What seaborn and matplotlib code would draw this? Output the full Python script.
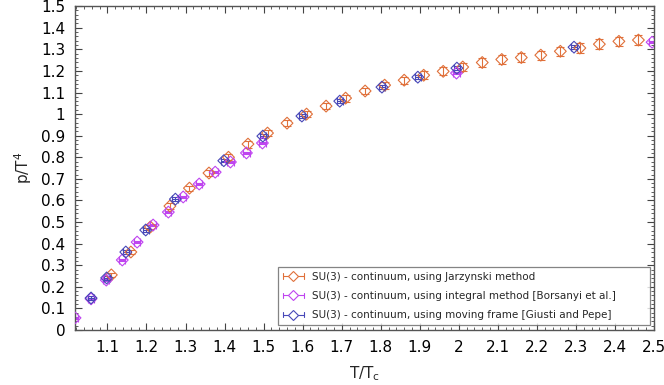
import numpy as np
import matplotlib
matplotlib.use("Agg")
import matplotlib.pyplot as plt
from matplotlib.lines import Line2D
from matplotlib.legend_handler import HandlerBase
from matplotlib.ticker import MultipleLocator, FuncFormatter
import seaborn as sns

# ── data ────────────────────────────────────────────────────
jar_x = [1.11, 1.16, 1.21, 1.26, 1.31, 1.36, 1.41, 1.46, 1.51, 1.56,
         1.61, 1.66, 1.71, 1.76, 1.81, 1.86, 1.91, 1.96, 2.01, 2.06,
         2.11, 2.16, 2.21, 2.26, 2.31, 2.36, 2.41, 2.46]
jar_y = [0.255, 0.361, 0.477, 0.574, 0.657, 0.727, 0.800, 0.861, 0.912, 0.958,
         1.000, 1.037, 1.074, 1.107, 1.134, 1.157, 1.180, 1.198, 1.218, 1.239,
         1.253, 1.262, 1.273, 1.291, 1.306, 1.324, 1.337, 1.343]
jar_yerr = [0.008, 0.010, 0.010, 0.012, 0.012, 0.014, 0.015, 0.016, 0.015, 0.015,
            0.015, 0.015, 0.016, 0.016, 0.016, 0.017, 0.018, 0.018, 0.020, 0.020,
            0.020, 0.021, 0.021, 0.021, 0.022, 0.022, 0.022, 0.023]

bor_x = [1.017, 1.058, 1.097, 1.138, 1.176, 1.217, 1.256, 1.294, 1.335,
         1.376, 1.415, 1.456, 1.497, 1.994, 2.495]
bor_y = [0.056, 0.144, 0.231, 0.324, 0.407, 0.486, 0.546, 0.616, 0.676,
         0.731, 0.778, 0.820, 0.866, 1.190, 1.333]
bor_xerr = 0.008
bor_yerr = 0.005

gp_x = [1.058, 1.098, 1.147, 1.198, 1.274, 1.398, 1.498, 1.598, 1.695,
        1.803, 1.895, 1.995, 2.295]
gp_y = [0.148, 0.241, 0.361, 0.463, 0.606, 0.784, 0.898, 0.991, 1.060,
        1.125, 1.171, 1.213, 1.310]
gp_xerr = 0.008
gp_yerr = 0.008

labels = ["SU(3) - continuum, using Jarzynski method",
          "SU(3) - continuum, using integral method [Borsanyi et al.]",
          "SU(3) - continuum, using moving frame [Giusti and Pepe]"]
colors = ["#E0703A", "#BF45F0", "#4848B8"]


class HandlerXErr(HandlerBase):
    """gnuplot style key sample: |--<>--|"""
    def create_artists(self, legend, orig_handle, xdescent, ydescent,
                       width, height, fontsize, trans):
        col = orig_handle.get_color()
        yc = height / 2 - ydescent
        x0, x1 = -xdescent, width - xdescent
        cap = height * 0.35
        arts = [
            Line2D([x0, x1], [yc, yc], color=col, lw=0.8),
            Line2D([x0, x0], [yc - cap, yc + cap], color=col, lw=0.8),
            Line2D([x1, x1], [yc - cap, yc + cap], color=col, lw=0.8),
            Line2D([(x0 + x1) / 2], [yc], marker="D", ms=5.5, mfc="white",
                   mec=col, mew=0.8, ls="none"),
        ]
        for a in arts:
            a.set_transform(trans)
        return arts


# ── style ───────────────────────────────────────────────────
sns.set_theme(style="ticks")
plt.rcParams["font.family"] = ["DejaVu Sans"]

fig = plt.figure(figsize=(6.64, 3.85), dpi=100)
ax = fig.add_axes([0.113, 0.143, 0.872, 0.841])

series = [
    (jar_x, jar_y, None, jar_yerr),
    (bor_x, bor_y, bor_xerr, bor_yerr),
    (gp_x, gp_y, gp_xerr, gp_yerr),
]
for (x, y, xe, ye), col in zip(series, colors):
    ax.errorbar(x, y, xerr=xe, yerr=ye, fmt="none", ecolor=col,
                elinewidth=0.8, capsize=3.2, capthick=0.8, zorder=2)
    sns.scatterplot(x=x, y=y, marker="D", s=36, facecolor="none",
                    edgecolor=col, linewidth=0.8, ax=ax, zorder=3)

handles = [Line2D([], [], color=c) for c in colors]
leg = ax.legend(handles, labels, handler_map={Line2D: HandlerXErr()},
                loc="lower left", bbox_to_anchor=(0.351, 0.015, 0.642, 0.176),
                mode="expand", fontsize=7.5, frameon=True, fancybox=False,
                borderaxespad=0.0, handlelength=2.0, handletextpad=0.75,
                labelspacing=0.9, borderpad=0.45)
leg.get_frame().set_edgecolor("#666666")
leg.get_frame().set_linewidth(0.9)

ax.set_xlim(1.017, 2.5)
ax.set_ylim(0, 1.5)
ax.xaxis.set_major_locator(MultipleLocator(0.1))
ax.xaxis.set_minor_locator(MultipleLocator(0.02))
ax.yaxis.set_major_locator(MultipleLocator(0.1))
ax.yaxis.set_minor_locator(MultipleLocator(0.02))
fmt = FuncFormatter(lambda v, p: f"{v:.1f}".rstrip("0").rstrip("."))
ax.xaxis.set_major_formatter(fmt)
ax.yaxis.set_major_formatter(fmt)

ax.tick_params(which="both", direction="in", top=True, right=True,
               colors="#444444", labelcolor="black", labelsize=11)
ax.tick_params(which="major", length=5, width=0.8, pad=7)
ax.tick_params(which="minor", length=2.5, width=0.6)
for s in ax.spines.values():
    s.set_color("#555555")
    s.set_linewidth(1.0)

ax.set_xlabel("T/T$_\\mathregular{c}$", fontsize=11, labelpad=7)
ax.set_ylabel("p/T$^\\mathregular{4}$", fontsize=11, labelpad=5)

fig.savefig("out.png", dpi=100)
